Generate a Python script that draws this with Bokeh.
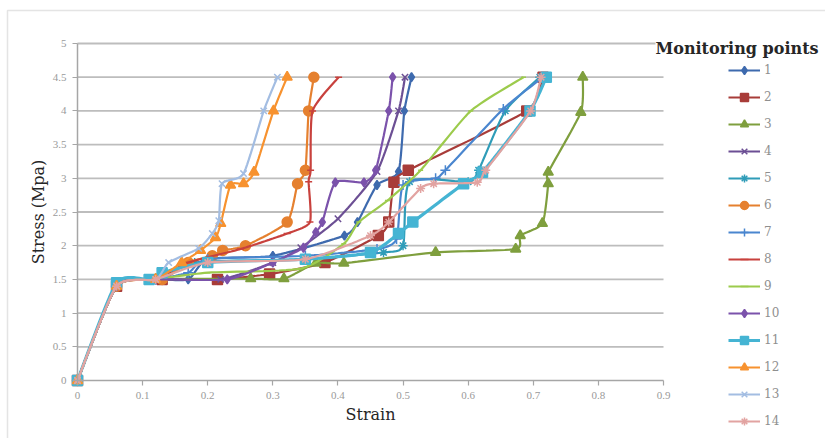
import numpy as np
from bokeh.plotting import figure
from bokeh.models import (Legend, LegendItem, Range1d, FixedTicker, BoxAnnotation,
                          Label, LinearAxis)
from bokeh.embed import file_html
from bokeh.resources import INLINE

# ---- data: strain / stress readings for each monitoring point ----
names = ["1", "2", "3", "4", "5", "6", "7", "8", "9", "10", "11", "12", "13", "14"]

strain_1 = [0, 0.06, 0.12, 0.17, 0.2, 0.3, 0.41, 0.43, 0.46, 0.493, 0.502, 0.513]
stress_1 = [0, 1.4, 1.5, 1.5, 1.8, 1.85, 2.15, 2.35, 2.9, 3.1, 4.0, 4.5]

strain_2 = [0, 0.06, 0.13, 0.215, 0.295, 0.38, 0.462, 0.478, 0.486, 0.508, 0.69, 0.715]
stress_2 = [0, 1.4, 1.5, 1.5, 1.58, 1.75, 2.15, 2.35, 2.94, 3.12, 4.0, 4.5]

strain_3 = [0, 0.06, 0.12, 0.266, 0.317, 0.366, 0.409, 0.55, 0.673, 0.68, 0.714, 0.723, 0.723, 0.773, 0.776]
stress_3 = [0, 1.4, 1.5, 1.51, 1.51, 1.74, 1.74, 1.9, 1.95, 2.15, 2.33, 2.92, 3.09, 3.98, 4.5]

strain_4 = [0, 0.06, 0.12, 0.22, 0.3, 0.343, 0.4, 0.46, 0.493, 0.503]
stress_4 = [0, 1.4, 1.5, 1.5, 1.75, 1.97, 2.4, 3.1, 4.0, 4.5]

strain_5 = [0, 0.06, 0.12, 0.18, 0.35, 0.47, 0.5, 0.51, 0.6, 0.616, 0.657, 0.71]
stress_5 = [0, 1.4, 1.5, 1.75, 1.8, 1.9, 2.0, 2.95, 2.95, 3.12, 4.0, 4.5]

strain_6 = [0, 0.06, 0.13, 0.17, 0.207, 0.223, 0.258, 0.322, 0.338, 0.35, 0.355, 0.363]
stress_6 = [0, 1.4, 1.5, 1.75, 1.85, 1.93, 2.0, 2.35, 2.92, 3.12, 4.0, 4.5]

strain_7 = [0, 0.06, 0.12, 0.17, 0.2, 0.35, 0.46, 0.49, 0.5, 0.55, 0.565, 0.654, 0.715]
stress_7 = [0, 1.4, 1.5, 1.6, 1.8, 1.85, 1.95, 2.1, 2.9, 3.0, 3.12, 4.03, 4.5]

strain_8 = [0, 0.06, 0.12, 0.17, 0.25, 0.322, 0.357, 0.355, 0.358, 0.361, 0.401]
stress_8 = [0, 1.4, 1.5, 1.75, 1.95, 2.18, 2.35, 2.95, 3.12, 4.0, 4.5]

strain_9 = [0, 0.06, 0.12, 0.2, 0.343, 0.409, 0.432, 0.476, 0.527, 0.604, 0.685]
stress_9 = [0, 1.4, 1.5, 1.6, 1.66, 2.03, 2.35, 2.67, 3.12, 4.0, 4.5]

strain_10 = [0, 0.06, 0.12, 0.23, 0.3, 0.347, 0.366, 0.376, 0.396, 0.44, 0.458, 0.478, 0.484]
stress_10 = [0, 1.4, 1.5, 1.5, 1.75, 1.97, 2.2, 2.35, 2.94, 2.94, 3.12, 4.0, 4.5]

strain_11 = [0, 0.06, 0.11, 0.13, 0.2, 0.35, 0.45, 0.493, 0.515, 0.593, 0.622, 0.695, 0.72]
stress_11 = [0, 1.45, 1.5, 1.6, 1.75, 1.8, 1.9, 2.18, 2.35, 2.92, 3.09, 4.0, 4.5]

strain_12 = [0, 0.06, 0.12, 0.16, 0.189, 0.212, 0.22, 0.235, 0.255, 0.271, 0.301, 0.322]
stress_12 = [0, 1.4, 1.5, 1.75, 1.93, 2.12, 2.33, 2.9, 2.92, 3.09, 4.0, 4.5]

strain_13 = [0, 0.06, 0.12, 0.14, 0.186, 0.207, 0.217, 0.222, 0.255, 0.286, 0.307]
stress_13 = [0, 1.4, 1.5, 1.75, 1.96, 2.18, 2.37, 2.92, 3.07, 4.0, 4.5]

strain_14 = [0, 0.06, 0.12, 0.2, 0.35, 0.45, 0.478, 0.527, 0.547, 0.614, 0.627, 0.696, 0.712]
stress_14 = [0, 1.4, 1.5, 1.75, 1.8, 2.15, 2.35, 2.85, 2.92, 2.94, 3.12, 4.0, 4.5]

x_ticks = [0, 0.1, 0.2, 0.3, 0.4, 0.5, 0.6, 0.7, 0.8, 0.9]
y_ticks = [0, 0.5, 1, 1.5, 2, 2.5, 3, 3.5, 4, 4.5, 5]

series = [
    (strain_1, stress_1), (strain_2, stress_2), (strain_3, stress_3),
    (strain_4, stress_4), (strain_5, stress_5), (strain_6, stress_6),
    (strain_7, stress_7), (strain_8, stress_8), (strain_9, stress_9),
    (strain_10, stress_10), (strain_11, stress_11), (strain_12, stress_12),
    (strain_13, stress_13), (strain_14, stress_14),
]

# ---- styling per series ----
colors = ["#3e6aae", "#a83c39", "#7f9f3e", "#6c4f94", "#2f9cb8", "#e5802f",
          "#4a86cf", "#c8413d", "#9ccb4c", "#7b52ab", "#45b4d3", "#f7922f",
          "#a3bde2", "#e2a3a1"]
markers = ["diamond", "square", "triangle", "x", "asterisk", "circle",
           "cross", "dash", "dash", "diamond", "square", "triangle", "x", "asterisk"]
msizes = [9, 10, 10, 9, 9, 10, 10, 7, 5, 9, 10, 10, 9, 9]
lwidths = [2.2, 2.2, 2.2, 2.2, 2.2, 2.2, 2.2, 2.2, 2.2, 2.2, 3.2, 2.2, 2.2, 2.2]


def smooth(xs, ys, n=14, k=0.6):
    """Cubic Bezier smoothing through the points (spreadsheet-style smoothed line)."""
    P = np.column_stack([xs, ys]).astype(float)
    m = len(P)
    out = [P[0]]
    t = np.linspace(0, 1, n + 1)[1:, None]
    for i in range(m - 1):
        p0 = P[i - 1] if i > 0 else P[i]
        p1, p2 = P[i], P[i + 1]
        p3 = P[i + 2] if i + 2 < m else P[i + 1]
        c1 = p1 + k * (p2 - p0) / 6.0
        c2 = p2 - k * (p3 - p1) / 6.0
        seg = ((1 - t) ** 3) * p1 + 3 * ((1 - t) ** 2) * t * c1 + 3 * (1 - t) * t ** 2 * c2 + t ** 3 * p2
        out.extend(seg)
    out = np.array(out)
    return out[:, 0], out[:, 1]


SERIF = "DejaVu Serif"
W, H = 825, 438
# plot area: strain 0..0.9 spans px 77..663, stress 0..5 spans px 380..43
PX_X = (663 - 77) / 0.9
PX_Y = (380 - 43) / 5.0

p = figure(width=W, height=H, output_backend="svg", toolbar_location=None,
           x_axis_location=None, y_axis_location=None,
           x_range=Range1d(-77 / PX_X, (W - 77) / PX_X),
           y_range=Range1d(-(H - 380) / PX_Y, 5 + 43 / PX_Y),
           min_border=0)
p.outline_line_color = None
p.background_fill_color = "white"
p.border_fill_color = "white"
p.xgrid.visible = False
p.ygrid.visible = False

xaxis = LinearAxis(fixed_location=0, bounds=(0, 0.9), ticker=FixedTicker(ticks=x_ticks),
                   axis_label="Strain")
yaxis = LinearAxis(fixed_location=0, bounds=(0, 5), ticker=FixedTicker(ticks=y_ticks),
                   axis_label="Stress (Mpa)")
xaxis.major_label_overrides = {0: "0"}
yaxis.major_label_overrides = {0: "0", 1: "1", 2: "2", 3: "3", 4: "4", 5: "5"}
for ax in (xaxis, yaxis):
    ax.axis_line_color = "#a6a6a6"
    ax.axis_line_width = 1.5
    ax.major_tick_line_color = "#a6a6a6"
    ax.major_tick_line_width = 1.2
    ax.major_tick_out = 5
    ax.major_tick_in = 0
    ax.minor_tick_line_color = None
    ax.major_label_text_font = "Liberation Serif"
    ax.major_label_text_font_size = "11px"
    ax.major_label_text_color = "#9a9a9a"
    ax.major_label_standoff = 6
    ax.axis_label_text_font = SERIF
    ax.axis_label_text_font_style = "normal"
    ax.axis_label_text_font_size = "16px"
    ax.axis_label_text_color = "#262626"
xaxis.axis_label_standoff = 3
yaxis.axis_label_standoff = 2
p.add_layout(xaxis, "below")
p.add_layout(yaxis, "left")

# horizontal gridlines at the stress ticks, across the strain extent
grid_y = y_ticks[1:]
p.segment(x0=[x_ticks[0]] * len(grid_y), x1=[x_ticks[-1]] * len(grid_y),
          y0=grid_y, y1=grid_y, line_color="#bdbdbd", line_width=1.8)

items = []
for i, (xs, ys) in enumerate(series):
    sx, sy = smooth(xs, ys)
    r_line = p.line(sx, sy, line_color=colors[i], line_width=lwidths[i])
    r_pts = p.scatter(xs, ys, marker=markers[i], size=msizes[i],
                      fill_color=colors[i], line_color=colors[i], line_width=1.5)
    items.append(LegendItem(label=names[i], renderers=[r_line, r_pts]))

legend = Legend(items=items, location=(728, 7), orientation="vertical",
                padding=0, margin=0, spacing=7, glyph_width=32, glyph_height=20,
                label_height=20, label_standoff=4,
                label_text_font=SERIF, label_text_font_size="12px",
                label_text_color="#8f8f8f",
                border_line_color=None, background_fill_alpha=0)
p.add_layout(legend)

p.add_layout(Label(x=(655 - 77) / PX_X, y=(380 - 48) / PX_Y, text="Monitoring points",
                   text_font=SERIF, text_font_style="bold", text_font_size="16px",
                   text_color="#262626", text_baseline="middle",
                   background_fill_color="white"))

# chart-area border (left and top edges fall inside the canvas)
p.add_layout(BoxAnnotation(left=-70 / PX_X, right=5, top=5 + 33 / PX_Y, bottom=-5,
                           fill_alpha=0, line_color="#a6a6a6", line_width=1.5))

open("out.html", "w").write(file_html(p, INLINE))
